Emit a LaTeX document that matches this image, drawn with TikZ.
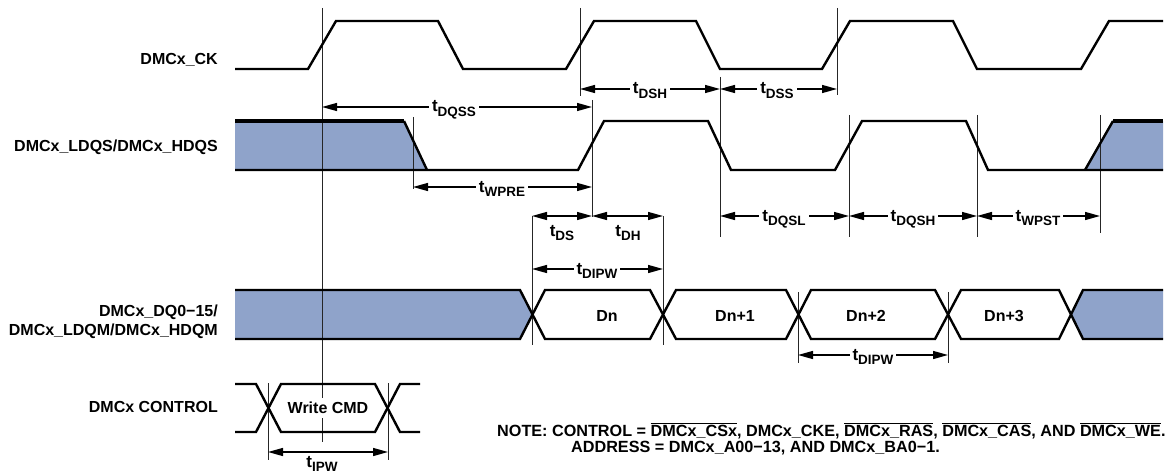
\documentclass[tikz,border=0pt]{standalone}
\usepackage{fontspec}
\setmainfont{Liberation Sans}
\usetikzlibrary{arrows.meta}
\definecolor{fillblue}{RGB}{143,163,202}
\newcommand{\tsb}[1]{{\fontsize{17}{17}\selectfont t}\raisebox{-0.3em}{\fontsize{13.5}{14}\selectfont #1}}
\newcommand{\ovl}[1]{$\overline{\hbox{#1}}$}
\begin{document}
\begin{tikzpicture}[x=1pt,y=-1pt,
  font=\fontsize{16}{19}\selectfont\bfseries,
  wave/.style={line width=2.4pt, line join=miter},
  thickwave/.style={line width=3.6pt},
  vline/.style={line width=1pt, draw=black!85},
  dim/.style={line width=1.4pt, {Triangle[length=15pt,width=8pt]}-{Triangle[length=15pt,width=8pt]}},
  lbl/.style={anchor=east, inner sep=0pt},
  tl/.style={anchor=base, fill=white, inner xsep=3pt, inner ysep=1pt},
  tb/.style={anchor=base, inner sep=1pt}]
\path[use as bounding box] (0,0) rectangle (1169,476);

% fills
\fill[fillblue] (235,121) -- (404,121) -- (427,170) -- (235,170) -- cycle;
\fill[fillblue] (1085,170) -- (1113,121) -- (1163,121) -- (1163,170) -- cycle;
\fill[fillblue] (235,290) -- (520,290) -- (532.5,314.5) -- (520,339) -- (235,339) -- cycle;
\fill[fillblue] (1071,314.5) -- (1083,290) -- (1163,290) -- (1163,339) -- (1083,339) -- cycle;

% vertical timing lines
\draw[vline] (322,8) -- (322,442);
\draw[vline] (580,8) -- (580,96);
\draw[vline] (592,100) -- (592,217);
\draw[vline] (413,117) -- (413,189);
\draw[vline] (720,77) -- (720,237);
\draw[vline] (837,8) -- (837,95);
\draw[vline] (849,115) -- (849,237);
\draw[vline] (977,115) -- (977,237);
\draw[vline] (1100,115) -- (1100,233);
\draw[vline] (532,216) -- (532,345);
\draw[vline] (663,216) -- (663,345);
\draw[vline] (798,292) -- (798,363);
\draw[vline] (948,292) -- (948,363);
\draw[vline] (268,383) -- (268,460);
\draw[vline] (388,383) -- (388,460);

% DMCx_CK
\draw[wave] (235,69) -- (308,69) -- (336,21) -- (438,21) -- (463,69) -- (566,69) -- (594,21) -- (696,21) -- (720,69) -- (822,69) -- (850,21) -- (953,21) -- (977,69) -- (1081,69) -- (1109,21) -- (1163,21);

% DQS
\draw[thickwave] (235,121) -- (404,121);
\draw[wave] (404,121) -- (427,170);
\draw[wave] (235,170) -- (578,170) -- (604,121) -- (708,121) -- (731,170) -- (835,170) -- (862,121) -- (966,121) -- (988,170) -- (1163,170);
\draw[wave] (1085,170) -- (1113,121);
\draw[thickwave] (1113,121) -- (1163,121);

% DQ
\draw[wave] (235,290) -- (520,290) -- (545,339) -- (650,339) -- (676,290) -- (786,290) -- (811,339) -- (935,339) -- (961,290) -- (1059,290) -- (1083,339) -- (1163,339);
\draw[wave] (235,339) -- (520,339) -- (545,290) -- (650,290) -- (676,339) -- (786,339) -- (811,290) -- (935,290) -- (961,339) -- (1059,339) -- (1083,290) -- (1163,290);

% CONTROL
\draw[wave] (235,384) -- (256,384) -- (281,432) -- (375,432) -- (400,384) -- (420,384);
\draw[wave] (235,432) -- (256,432) -- (281,384) -- (375,384) -- (400,432) -- (420,432);

% signal labels
\node[lbl] (ck) at (218,60) {DMCx\_CK};
\node[lbl] (dqs) at (218,147) {DMCx\_LDQS/DMCx\_HDQS};
\node[lbl, align=right] (dq) at (218,322) {DMCx\_DQ0−15/\\DMCx\_LDQM/DMCx\_HDQM};
\node[lbl] (ctl) at (218,407) {DMCx CONTROL};

% data labels
\node (dn) at (607,316) {Dn};
\node (dn1) at (735,316) {Dn+1};
\node (dn2) at (866,316) {Dn+2};
\node (dn3) at (1004,316) {Dn+3};
\node[fill=white, inner xsep=1pt, inner ysep=4pt] (wcmd) at (328,408) {Write CMD};

% timing arrow end points
\coordinate (q1) at (322,107); \coordinate (q2) at (592,107);
\coordinate (h1) at (580,89); \coordinate (h2) at (720,89); \coordinate (h3) at (837,89);
\coordinate (w1) at (413,187); \coordinate (w2) at (592,187);
\coordinate (s1) at (532,216); \coordinate (s2) at (592,216); \coordinate (s3) at (663,216);
\coordinate (p1) at (532,269); \coordinate (p2) at (663,269);
\coordinate (l1) at (720,216); \coordinate (l2) at (849,216); \coordinate (l3) at (977,216); \coordinate (l4) at (1100,216);
\coordinate (r1) at (798,355); \coordinate (r2) at (948,355);
\coordinate (c1) at (268,452); \coordinate (c2) at (388,452);

\draw[dim] (q1) -- (q2);
\draw[dim] (h1) -- (h2);
\draw[dim] (h2) -- (h3);
\draw[dim] (w1) -- (w2);
\draw[dim] (s1) -- (s2);
\draw[dim] (s2) -- (s3);
\draw[dim] (p1) -- (p2);
\draw[dim] (l1) -- (l2);
\draw[dim] (l2) -- (l3);
\draw[dim] (l3) -- (l4);
\draw[dim] (r1) -- (r2);
\draw[dim] (c1) -- (c2);

% timing labels
\node[tl] (tdqss) at (454,112) {\tsb{DQSS}};
\node[tl] (tdsh) at (650,94) {\tsb{DSH}};
\node[tl] (tdss) at (777,94) {\tsb{DSS}};
\node[tl] (twpre) at (502,192) {\tsb{WPRE}};
\node[tb] (tds) at (562,236) {\tsb{DS}};
\node[tb] (tdh) at (628,236) {\tsb{DH}};
\node[tl] (tdipw) at (597,274) {\tsb{DIPW}};
\node[tl] (tdqsl) at (784,221) {\tsb{DQSL}};
\node[tl] (tdqsh) at (913,221) {\tsb{DQSH}};
\node[tl] (twpst) at (1038,221) {\tsb{WPST}};
\node[tl] (tdipw2) at (873,360) {\tsb{DIPW}};
\node[tb] (tipw) at (322,467) {\tsb{IPW}};

% note
\node[anchor=base west, inner sep=0pt, font=\fontsize{16.2}{19}\selectfont\bfseries] (note1) at (497,436) {NOTE: CONTROL = \ovl{DMCx\_CSx}, DMCx\_CKE, \ovl{DMCx\_RAS}, \ovl{DMCx\_CAS}, AND \ovl{DMCx\_WE}.};
\node[anchor=base west, inner sep=0pt, font=\fontsize{16.2}{19}\selectfont\bfseries] (note2) at (571,452) {ADDRESS = DMCx\_A00−13, AND DMCx\_BA0−1.};
\end{tikzpicture}
\end{document}
